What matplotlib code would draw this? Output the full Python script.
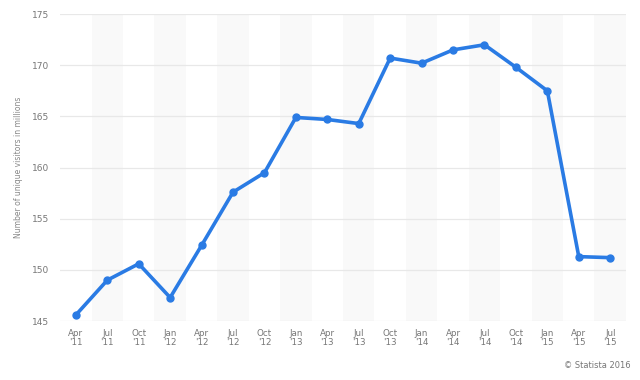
import matplotlib.pyplot as plt

labels = ["Apr\n'11", "Jul\n'11", "Oct\n'11", "Jan\n'12", "Apr\n'12", "Jul\n'12",
          "Oct\n'12", "Jan\n'13", "Apr\n'13", "Jul\n'13", "Oct\n'13", "Jan\n'14",
          "Apr\n'14", "Jul\n'14", "Oct\n'14", "Jan\n'15", "Apr\n'15", "Jul\n'15"]
visitors = [145.6, 149.0, 150.6, 147.3, 152.4, 157.6, 159.5, 164.9, 164.7,
            164.3, 170.7, 170.2, 171.5, 172.0, 169.8, 167.5, 151.3, 151.2]
yticks = [145, 150, 155, 160, 165, 170, 175]

fig = plt.figure(figsize=(6.4, 3.8), dpi=100)
ax = fig.add_axes([0.094, 0.155, 0.884, 0.808])

x = list(range(len(labels)))
for i in x:
    if i % 2 == 1:
        ax.axvspan(i - 0.5, i + 0.5, color='#f9f9f9', zorder=0, lw=0)
for v in yticks:
    ax.axhline(v, color='#e8e8e8', lw=0.9, zorder=1)

ax.plot(x, visitors, color='#2a7be4', lw=2.6, marker='o', ms=5, zorder=3,
        solid_joinstyle='round')

ax.set_xlim(-0.5, len(labels) - 0.5)
ax.set_ylim(145, 175)
ax.set_yticks(yticks)
ax.set_xticks(x)
ax.set_xticklabels(labels, fontsize=6.3, color='#777777', linespacing=0.95)
ax.tick_params(axis='y', labelsize=6.5, labelcolor='#777777', length=0, pad=8)
ax.tick_params(axis='x', length=0, pad=6)
for s in ax.spines.values():
    s.set_visible(False)

ax.set_ylabel('Number of unique visitors in millions', fontsize=5.5,
              color='#888888', labelpad=6)
fig.text(0.985, 0.025, '\u00a9 Statista 2016', ha='right', va='bottom',
         fontsize=6, color='#777777')

fig.savefig('out.png', dpi=100)
